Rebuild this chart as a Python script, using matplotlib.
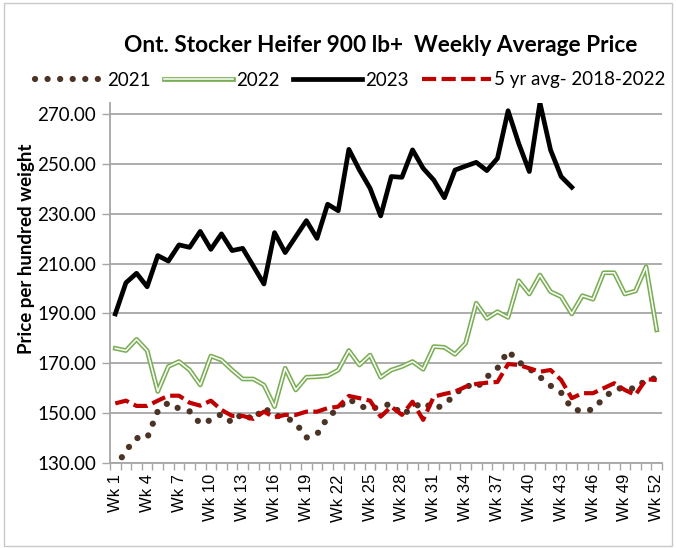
import matplotlib

matplotlib.use("Agg")
import matplotlib.pyplot as plt
from matplotlib.lines import Line2D
from matplotlib.legend_handler import HandlerTuple
from matplotlib.patches import Rectangle
import numpy as np

# weekly average price, $/cwt
weeks = [f"Wk {i}" for i in range(1, 53)]

y2021 = [128.0, 135.0, 140.0, 140.0, 150.8, 154.2, 151.8, 150.7, 145.8, 147.2,
         149.6, 146.2, 150.0, 147.3, 152.2, 149.0, 148.5, 146.0, 140.2, 141.5,
         148.2, 152.0, 155.7, 153.0, 151.5, 152.8, 153.7, 149.3, 152.0, 154.4,
         151.6, 153.4, 157.5, 161.3, 160.0, 164.5, 168.0, 175.0, 170.5, 167.8,
         164.5, 161.0, 158.2, 151.8, 150.7, 151.5, 156.0, 159.5, 160.3, 159.7,
         163.5, 164.0]

y2022 = [176.0, 175.1, 179.6, 175.1, 158.7, 168.7, 170.7, 167.3, 161.3, 172.9,
         171.3, 167.3, 163.7, 163.7, 161.3, 152.6, 168.0, 159.3, 164.4, 164.6,
         165.0, 167.3, 175.1, 169.3, 173.3, 164.4, 167.3, 168.7, 170.7, 167.6,
         176.7, 176.4, 173.6, 178.0, 194.1, 188.0, 190.7, 188.4, 203.1, 197.8,
         205.4, 198.7, 196.7, 189.8, 197.1, 195.7, 206.3, 206.3, 197.8, 199.0,
         208.7, 183.4]

y2023 = [189.8, 202.3, 206.1, 200.7, 213.2, 211.0, 217.5, 216.5, 222.9, 215.7,
         221.9, 215.2, 216.1, 209.0, 201.8, 222.4, 214.4, 220.8, 227.2, 220.1,
         233.8, 231.2, 255.8, 247.5, 240.2, 229.1, 244.9, 244.6, 255.6, 248.2,
         243.5, 236.4, 247.5, 249.1, 250.6, 247.3, 252.2, 271.3, 258.2, 246.9,
         274.5, 255.6, 244.9, 240.6]

avg5 = [153.9, 155.0, 152.9, 152.9, 155.0, 157.0, 157.0, 154.2, 153.0, 155.0,
        151.3, 148.9, 148.9, 147.7, 150.6, 148.3, 149.3, 149.3, 150.6, 150.6,
        152.0, 152.6, 156.9, 156.0, 155.0, 148.6, 152.6, 149.3, 154.6, 147.3,
        156.6, 157.7, 158.6, 160.6, 161.7, 162.2, 162.5, 169.7, 169.3, 168.0,
        166.6, 167.3, 163.3, 156.0, 158.0, 158.0, 160.0, 162.0, 159.3, 157.3,
        163.6, 163.3]

yticks = [130, 150, 170, 190, 210, 230, 250, 270]

BROWN = "#4B3326"
GREEN = "#7AAE55"
RED = "#C00000"
GRID = "#A6A6A6"

DOTS = dict(color=BROWN, lw=4.5, ls=(0, (0.01, 2.0)), dash_capstyle="round")
DASH = dict(color=RED, lw=3.0, ls=(0, (3.4, 1.3)))

fig = plt.figure(figsize=(6.76, 5.48), dpi=100)
ax = fig.add_axes([110 / 676, 1 - 463 / 548, 552 / 676, 360 / 548])

x = np.arange(1, 53)
ax.plot(x, y2021, zorder=3, **DOTS)
# double line: green outline with a white core
ax.plot(x, y2022, color=GREEN, lw=3.4, zorder=3)
ax.plot(x, y2022, color="white", lw=1.1, zorder=3)
ax.plot(x[:len(y2023)], y2023, color="black", lw=3.4, solid_joinstyle="round", zorder=4)
ax.plot(x, avg5, zorder=5, **DASH)

ax.set_xlim(0.5, 52.5)
ax.set_ylim(130, 274.4)
ax.set_yticks(yticks)
ax.set_yticklabels([f"{v:.2f}" for v in yticks], fontfamily="Lato", fontsize=13.5)
ax.set_xticks(x[::3])
ax.set_xticklabels(weeks[::3], rotation=90, fontfamily="Liberation Sans", fontsize=12)
ax.set_xticks(np.arange(0.5, 53), minor=True)
ax.tick_params(axis="x", which="major", length=0, pad=8)
ax.tick_params(axis="x", which="minor", length=5, color=GRID, width=1)
ax.tick_params(axis="y", length=6, color=GRID, width=1, pad=4)
ax.grid(True, axis="y", color=GRID, lw=1.3)
ax.set_axisbelow(True)
for s in ("top", "right"):
    ax.spines[s].set_visible(False)
for s in ("left", "bottom"):
    ax.spines[s].set_color(GRID)
    ax.spines[s].set_linewidth(1.3)

ax.set_ylabel("Price per hundred weight", fontfamily="Lato", fontweight="bold",
              fontsize=13.5)
ax.yaxis.set_label_coords(-0.135, 0.594)

fig.text(381 / 676, 1 - 45 / 548, "Ont. Stocker Heifer 900 lb+  Weekly Average Price",
         ha="center", va="center", fontfamily="Lato", fontweight="bold", fontsize=16.3)

handles = [
    Line2D([], [], **DOTS),
    (Line2D([], [], color=GREEN, lw=3.4), Line2D([], [], color="white", lw=1.1)),
    Line2D([], [], color="black", lw=3.4),
    Line2D([], [], **DASH),
]
labels = ["2021", "2022", "2023", "5 yr avg- 2018-2022"]
fig.legend(handles, labels, loc="center left", bbox_to_anchor=(18 / 676, 1 - 80 / 548),
           ncol=4, frameon=False, handlelength=3.7, handletextpad=0.16,
           columnspacing=0.7, prop={"family": "Lato", "size": 13.5},
           handler_map={tuple: HandlerTuple(ndivide=1, pad=0)})

fig.add_artist(Rectangle((4 / 676, 2 / 548), 668 / 676, 543 / 548, transform=fig.transFigure,
                         fill=False, edgecolor="#C8C8C8", lw=1))

fig.savefig("out.png", dpi=100)
